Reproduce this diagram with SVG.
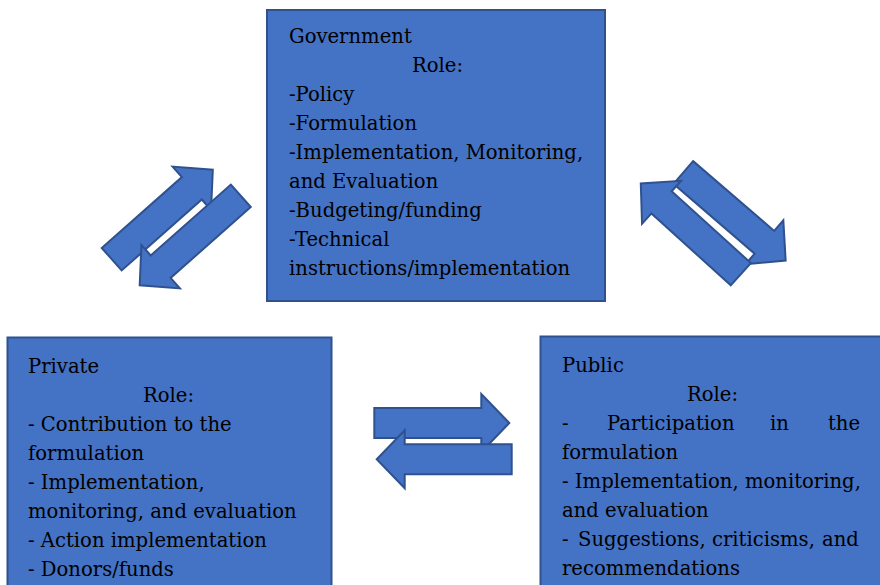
<svg xmlns="http://www.w3.org/2000/svg" xmlns:xlink="http://www.w3.org/1999/xlink" width="880" height="585" viewBox="0 0 880 585">
  <style>
    .box { fill: #4472C4; stroke: #2F528F; stroke-width: 2; }
    .arrow { fill: #4472C4; stroke: #2F528F; stroke-width: 2; stroke-linejoin: miter; }
    .t { font-family: "DejaVu Serif", "Liberation Serif", serif; font-size: 19.6px; fill: #000; }
  </style>
  <defs>
    <!-- block arrow pointing along +x, tail at origin -->
    <path id="blockArrow" d="M0,-15 H107 V-29 L135,0 L107,29 V15 H0 Z"/>
  </defs>

  <rect width="880" height="585" fill="#fff"/>

  <g id="connectors">
    <use xlink:href="#blockArrow" class="arrow" transform="translate(111.7,259.2) rotate(-41.5)"/>
    <use xlink:href="#blockArrow" class="arrow" transform="translate(240.8,195.8) rotate(138.5)"/>
    <use xlink:href="#blockArrow" class="arrow" transform="translate(683.3,172.5) rotate(40.7)"/>
    <use xlink:href="#blockArrow" class="arrow" transform="translate(740.8,274.2) rotate(-137.8)"/>
    <use xlink:href="#blockArrow" class="arrow" transform="translate(374.3,423)"/>
    <use xlink:href="#blockArrow" class="arrow" transform="translate(511.7,459.3) rotate(180)"/>
  </g>

  <g id="government">
    <rect class="box" x="267" y="10" width="338" height="291"/>
    <text class="t" x="289" y="43">Government</text>
    <text class="t" x="412" y="72">Role:</text>
    <text class="t" x="289" y="101">-Policy</text>
    <text class="t" x="289" y="130">-Formulation</text>
    <text class="t" x="289" y="159">-Implementation, Monitoring,</text>
    <text class="t" x="289" y="188">and Evaluation</text>
    <text class="t" x="289" y="217">-Budgeting/funding</text>
    <text class="t" x="289" y="246">-Technical</text>
    <text class="t" x="289" y="275">instructions/implementation</text>
  </g>

  <g id="private">
    <rect class="box" x="7.5" y="337.5" width="324" height="260"/>
    <text class="t" x="28" y="373">Private</text>
    <text class="t" x="143" y="402">Role:</text>
    <text class="t" x="28" y="431">- Contribution to the</text>
    <text class="t" x="28" y="460">formulation</text>
    <text class="t" x="28" y="489">- Implementation,</text>
    <text class="t" x="28" y="518">monitoring, and evaluation</text>
    <text class="t" x="28" y="547">- Action implementation</text>
    <text class="t" x="28" y="576">- Donors/funds</text>
  </g>

  <g id="public">
    <rect class="box" x="540.5" y="336.5" width="350" height="260"/>
    <text class="t" x="562" y="372">Public</text>
    <text class="t" x="687" y="401">Role:</text>
    <text class="t" y="430"><tspan x="562">-</tspan><tspan x="607">Participation</tspan><tspan x="770">in</tspan><tspan x="828">the</tspan></text>
    <text class="t" x="562" y="459">formulation</text>
    <text class="t" x="562" y="488">- Implementation, monitoring,</text>
    <text class="t" x="562" y="517">and evaluation</text>
    <text class="t" y="546"><tspan x="562">-</tspan><tspan x="578">Suggestions,</tspan><tspan x="712">criticisms,</tspan><tspan x="822">and</tspan></text>
    <text class="t" x="562" y="575">recommendations</text>
  </g>
</svg>
